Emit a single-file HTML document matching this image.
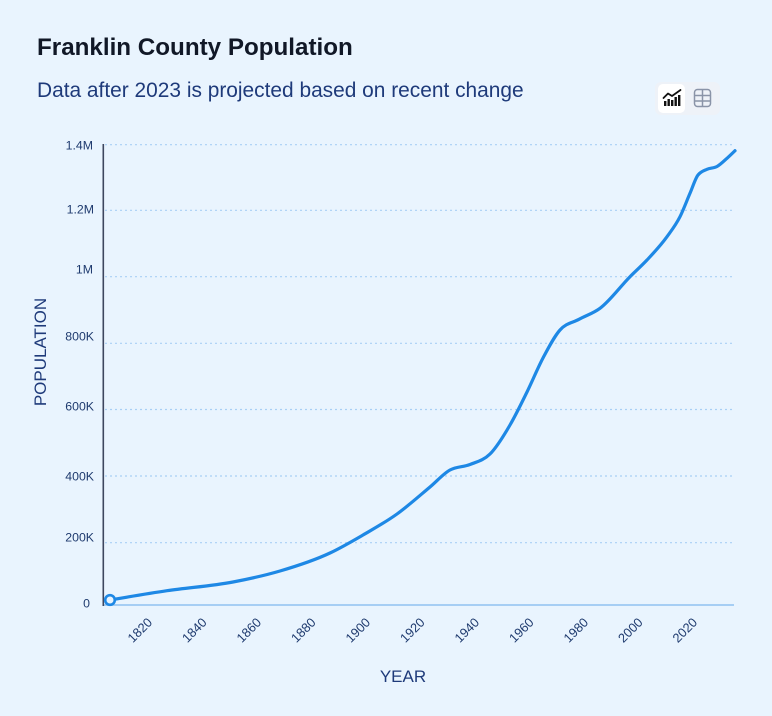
<!DOCTYPE html>
<html>
<head>
<meta charset="utf-8">
<style>
  html, body { margin:0; padding:0; }
  body { width:772px; height:716px; background:#e9f4fe; overflow:hidden; font-family:"Liberation Sans", sans-serif; }
  svg { display:block; }
</style>
</head>
<body>
<svg width="772" height="716" viewBox="0 0 772 716" xmlns="http://www.w3.org/2000/svg">
  <rect x="0" y="0" width="772" height="716" fill="#e9f4fe"/>
  <text x="37" y="55" font-family="Liberation Sans, sans-serif" font-size="24.2" font-weight="bold" fill="#111827">Franklin County Population</text>
  <text x="37" y="97" font-family="Liberation Sans, sans-serif" font-size="20.9" fill="#1e3a7a">Data after 2023 is projected based on recent change</text>

  <!-- toggle buttons -->
  <rect x="655" y="82" width="65" height="33" rx="6" fill="#eef2f8"/>
  <rect x="658" y="84" width="27" height="29" rx="5" fill="#ffffff"/>
  <g fill="#111">
    <rect x="664" y="101" width="2.4" height="5"/>
    <rect x="667.5" y="99" width="2.4" height="7"/>
    <rect x="671" y="100" width="2.4" height="6"/>
    <rect x="674.5" y="97" width="2.4" height="9"/>
    <rect x="678" y="95" width="2.4" height="11"/>
  </g>
  <polyline points="663.5,98 668,93.5 672,96 680.5,90" fill="none" stroke="#111" stroke-width="1.8" stroke-linejoin="round" stroke-linecap="round"/>
  <g fill="none" stroke="#8a94a8" stroke-width="1.5">
    <rect x="694.5" y="89.5" width="16" height="17" rx="3"/>
    <line x1="702.5" y1="89.5" x2="702.5" y2="106.5"/>
    <line x1="694.5" y1="95.5" x2="710.5" y2="95.5"/>
    <line x1="694.5" y1="101" x2="710.5" y2="101"/>
  </g>

  <!-- grid lines -->
  <g stroke="#a9cff5" stroke-width="1.2" stroke-dasharray="2 3">
    <line x1="105" y1="144.7" x2="735" y2="144.7"/>
    <line x1="105" y1="210.3" x2="735" y2="210.3"/>
    <line x1="105" y1="276.7" x2="735" y2="276.7"/>
    <line x1="105" y1="343.3" x2="735" y2="343.3"/>
    <line x1="105" y1="409.5" x2="735" y2="409.5"/>
    <line x1="105" y1="476" x2="735" y2="476"/>
    <line x1="105" y1="542.7" x2="735" y2="542.7"/>
  </g>
  <!-- axes -->
  <line x1="103" y1="605" x2="734" y2="605" stroke="#8fc1f0" stroke-width="1.5"/>
  <line x1="103.3" y1="144" x2="103.3" y2="606" stroke="#3d465e" stroke-width="1.6"/>

  <!-- y tick labels -->
  <g font-family="Liberation Sans, sans-serif" font-size="12.3" fill="#1e3a6e" text-anchor="end">
    <text x="93" y="149.5">1.4M</text>
    <text x="94" y="213.5">1.2M</text>
    <text x="93" y="273.5">1M</text>
    <text x="94" y="340.5">800K</text>
    <text x="94" y="410.5">600K</text>
    <text x="94" y="480.5">400K</text>
    <text x="94" y="541.5">200K</text>
    <text x="90" y="607.5">0</text>
  </g>

  <!-- x tick labels -->
  <g font-family="Liberation Sans, sans-serif" font-size="12.8" fill="#1e3a6e" text-anchor="middle">
    <text x="140" y="634.5" transform="rotate(-45 140 630.3)">1820</text>
    <text x="194.5" y="634.5" transform="rotate(-45 194.5 630.3)">1840</text>
    <text x="249" y="634.5" transform="rotate(-45 249 630.3)">1860</text>
    <text x="303.5" y="634.5" transform="rotate(-45 303.5 630.3)">1880</text>
    <text x="358" y="634.5" transform="rotate(-45 358 630.3)">1900</text>
    <text x="412.5" y="634.5" transform="rotate(-45 412.5 630.3)">1920</text>
    <text x="467" y="634.5" transform="rotate(-45 467 630.3)">1940</text>
    <text x="521.5" y="634.5" transform="rotate(-45 521.5 630.3)">1960</text>
    <text x="576" y="634.5" transform="rotate(-45 576 630.3)">1980</text>
    <text x="630.5" y="634.5" transform="rotate(-45 630.5 630.3)">2000</text>
    <text x="685" y="634.5" transform="rotate(-45 685 630.3)">2020</text>
  </g>

  <!-- axis titles -->
  <text x="403" y="682" font-family="Liberation Sans, sans-serif" font-size="17" fill="#1e3a7a" text-anchor="middle">YEAR</text>
  <text x="0" y="0" font-family="Liberation Sans, sans-serif" font-size="17" fill="#1e3a7a" text-anchor="middle" transform="translate(46 352) rotate(-90)">POPULATION</text>

  <!-- series -->
  <path id="series" fill="none" stroke="#1e88e5" stroke-width="3.2" stroke-linejoin="round" stroke-linecap="round"
    d="M110,600 L167,590.7 L233,582 L280,571 L330,553 L363,535 L397,514 L430,487 L450,470 L470,464.5 L490,454 L510,425 L527,392 L543,358 L560,330 L579,319.3 L600,308.3 L630,276.7 L647,260 L667,236.7 L680,216.7 L690,193.3 L698,175 L707,169.3 L717,166.5 L727,158.3 L735,150.7"/>
  <circle cx="110" cy="600" r="4.8" fill="#e9f4fe" stroke="#1e88e5" stroke-width="2.6"/>
</svg>
<script>
(function(){
  var pts=[[110,600],[167,590.7],[233,582],[280,571],[330,553],[363,535],[397,514],[430,487],[450,470],[470,464.5],[490,454],[510,425],[527,392],[543,358],[560,330],[579,319.3],[600,308.3],[630,276.7],[647,260],[667,236.7],[680,216.7],[690,193.3],[698,175],[707,169.3],[717,166.5],[727,158.3],[735,150.7]];
  function sign(v){return v<0?-1:1;}
  var n=pts.length, t=new Array(n);
  for(var i=1;i<n-1;i++){
    var x0=pts[i-1][0],y0=pts[i-1][1],x1=pts[i][0],y1=pts[i][1],x2=pts[i+1][0],y2=pts[i+1][1];
    var h0=x1-x0,h1=x2-x1,s0=(y1-y0)/h0,s1=(y2-y1)/h1,p=(s0*h1+s1*h0)/(h0+h1);
    t[i]=(sign(s0)+sign(s1))*Math.min(Math.abs(s0),Math.abs(s1),0.5*Math.abs(p))||0;
  }
  var hA=pts[1][0]-pts[0][0]; t[0]=(3*(pts[1][1]-pts[0][1])/hA - t[1])/2;
  var hB=pts[n-1][0]-pts[n-2][0]; t[n-1]=(3*(pts[n-1][1]-pts[n-2][1])/hB - t[n-2])/2;
  var d="M"+pts[0][0]+","+pts[0][1];
  for(var j=0;j<n-1;j++){
    var a=pts[j],b=pts[j+1],dx=(b[0]-a[0])/3;
    d+=" C"+(a[0]+dx).toFixed(2)+","+(a[1]+dx*t[j]).toFixed(2)+" "+(b[0]-dx).toFixed(2)+","+(b[1]-dx*t[j+1]).toFixed(2)+" "+b[0]+","+b[1];
  }
  document.getElementById("series").setAttribute("d",d);
})();
</script>
</body>
</html>
